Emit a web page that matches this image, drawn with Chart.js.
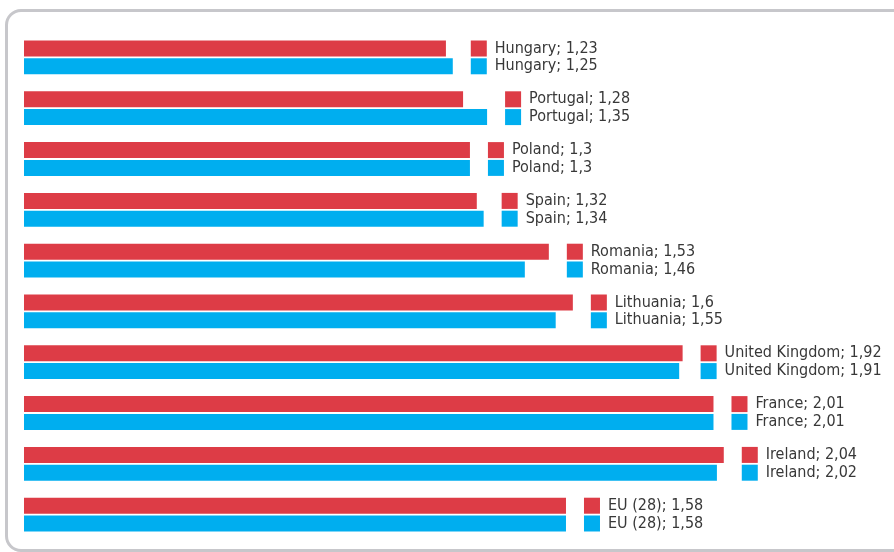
<!DOCTYPE html>
<html>
<head>
<meta charset="utf-8">
<script src="https://cdn.jsdelivr.net/npm/chart.js@4.4.1/dist/chart.umd.min.js"></script>
<style>
  html, body { margin: 0; padding: 0; background: #fff; overflow: hidden; }
  #wrap { position: relative; width: 894px; height: 552px; }
  #frame {
    position: absolute; left: 5px; top: 9px; width: 960px; height: 537px;
    border: 3px solid #c7c7cb; border-radius: 16px;
  }
  canvas { position: absolute; left: 0; top: 0; }
</style>
</head>
<body>
<div id="wrap">
  <div id="frame"></div>
  <canvas id="chart" width="894" height="552"></canvas>
</div>
<script>
const countries = ['Hungary', 'Portugal', 'Poland', 'Spain', 'Romania', 'Lithuania', 'United Kingdom', 'France', 'Ireland', 'EU (28)'];
const redValues = [1.23, 1.28, 1.3, 1.32, 1.53, 1.6, 1.92, 2.01, 2.04, 1.58];
const blueValues = [1.25, 1.35, 1.3, 1.34, 1.46, 1.55, 1.91, 2.01, 2.02, 1.58];
const redLabels = ['1,23', '1,28', '1,3', '1,32', '1,53', '1,6', '1,92', '2,01', '2,04', '1,58'];
const blueLabels = ['1,25', '1,35', '1,3', '1,34', '1,46', '1,55', '1,91', '2,01', '2,02', '1,58'];

const RED = '#dd3c46';
const BLUE = '#00aeef';

// draws the square + "Country; value" text next to each bar pair
const barLabels = {
    id: 'barLabels',
    afterDatasetsDraw(chart) {
        const ctx = chart.ctx;
        const m0 = chart.getDatasetMeta(0);
        const m1 = chart.getDatasetMeta(1);
        const texts = [redLabels, blueLabels];
        const colors = [RED, BLUE];
        ctx.save();
        ctx.font = '16px "DejaVu Sans Condensed", "DejaVu Sans", sans-serif';
        ctx.textBaseline = 'middle';
        countries.forEach((name, i) => {
            const bars = [m0.data[i], m1.data[i]];
            const xEnd = Math.max(bars[0].x, bars[1].x);
            const sq = xEnd + 18;
            bars.forEach((b, k) => {
                const h = b.height;
                ctx.fillStyle = colors[k];
                ctx.fillRect(sq, b.y - h / 2, h, h);
                ctx.fillStyle = '#383838';
                ctx.fillText(name + '; ' + texts[k][i], sq + 24, b.y);
            });
        });
        ctx.restore();
    }
};

new Chart(document.getElementById('chart').getContext('2d'), {
    type: 'bar',
    data: {
        labels: countries,
        datasets: [
            { data: redValues, backgroundColor: RED, categoryPercentage: 0.7, barPercentage: 0.9 },
            { data: blueValues, backgroundColor: BLUE, categoryPercentage: 0.7, barPercentage: 0.9 }
        ]
    },
    options: {
        indexAxis: 'y',
        responsive: false,
        animation: false,
        layout: { padding: { left: 24, right: 9, top: 32, bottom: 12 } },
        scales: {
            x: { display: false, min: 0, max: 2.51 },
            y: { display: false }
        },
        plugins: { legend: { display: false }, tooltip: { enabled: false } }
    },
    plugins: [barLabels]
});
</script>
</body>
</html>
